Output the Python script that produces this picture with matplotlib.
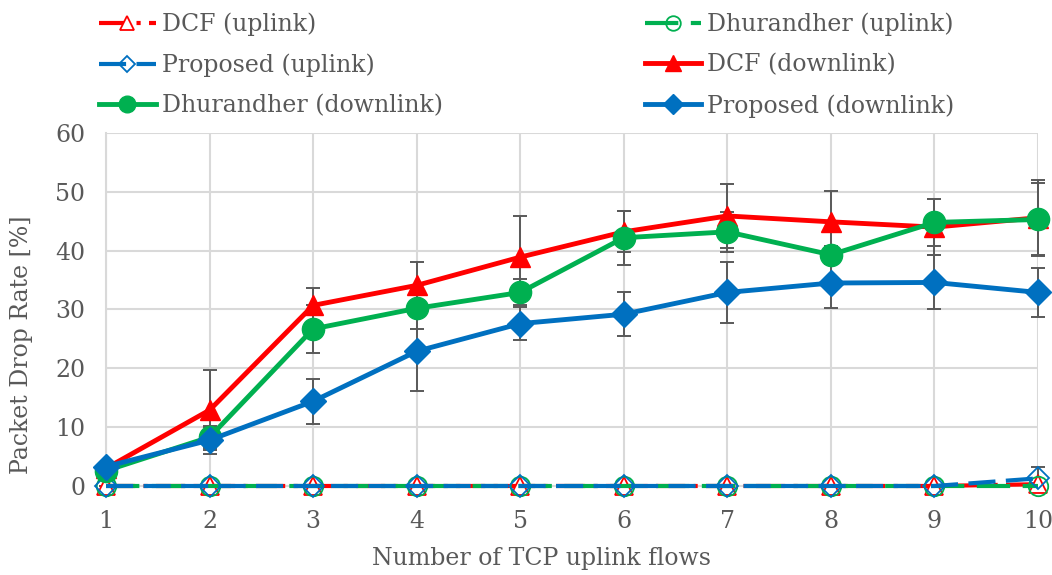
"""
Packet drop rate vs number of TCP uplink flows (uplink/downlink, 3 schemes).
Saves out.png.
"""

import matplotlib
matplotlib.use("Agg")
import matplotlib.pyplot as plt

# ---- data ----
flows = [1, 2, 3, 4, 5, 6, 7, 8, 9, 10]

dcf_up = [0, 0, 0, 0, 0, 0, 0, 0, 0, 0.3]
dhu_up = [0, 0, 0, 0, 0, 0, 0, 0, 0, 0]
prop_up = [0, 0, 0, 0, 0, 0, 0, 0, 0, 1.3]
prop_up_err = [0, 0, 0, 0, 0, 0, 0, 0, 0, 2.0]

dcf_down = [3.0, 12.9, 30.7, 34.1, 38.9, 43.2, 45.9, 44.9, 44.0, 45.6]
dhu_down = [2.6, 8.3, 26.7, 30.2, 32.9, 42.2, 43.2, 39.3, 44.8, 45.3]
prop_down = [3.3, 7.8, 14.4, 22.9, 27.6, 29.2, 32.9, 34.5, 34.6, 32.9]

dcf_down_err = [0.5, 6.8, 2.9, 3.9, 7.0, 3.5, 5.5, 5.2, 4.7, 6.4]
dhu_down_err = [0.5, 1.9, 4.1, 3.5, 2.2, 4.6, 3.4, 1.5, 4.0, 6.2]
prop_down_err = [0.5, 2.3, 3.8, 6.7, 2.8, 3.7, 5.2, 4.2, 4.6, 4.1]

RED = "#FF0000"
GREEN = "#00B050"
BLUE = "#0070C0"
GREY_TXT = "#595959"
GRID = "#D9D9D9"
ERR = "#595959"
FS = 17

plt.rcParams["font.family"] = ["DejaVu Serif"]


def main():
    fig = plt.figure(figsize=(10.52, 5.75), dpi=100)
    ax = fig.add_axes([0.1008, 0.1548, 0.8859, 0.6139])

    # error bars (under the lines)
    err_kw = dict(fmt="none", ecolor=ERR, elinewidth=1.4, capsize=5, capthick=1.4,
                  zorder=2, clip_on=False)
    ax.errorbar(flows, dcf_down, yerr=dcf_down_err, **err_kw)
    ax.errorbar(flows, dhu_down, yerr=dhu_down_err, **err_kw)
    ax.errorbar(flows, prop_down, yerr=prop_down_err, **err_kw)
    ax.errorbar(flows, prop_up, yerr=prop_up_err, **err_kw)

    # uplink (open markers, dashed)
    h_dcf_up, = ax.plot(flows, dcf_up, color=RED, lw=3, dashes=(7, 2, 1, 2),
                        marker="^", ms=13, mfc="white", mec=RED, mew=1.3,
                        clip_on=False, zorder=3, label="DCF (uplink)")
    h_dhu_up, = ax.plot(flows, dhu_up, color=GREEN, lw=3, dashes=(8, 3),
                        marker="o", ms=14, mfc="none", mec=GREEN, mew=1.3,
                        clip_on=False, zorder=3, label="Dhurandher (uplink)")
    h_prop_up, = ax.plot(flows, prop_up, color=BLUE, lw=3, dashes=(6.5, 2.5),
                         marker="D", ms=11, mfc="none", mec=BLUE, mew=1.3,
                         clip_on=False, zorder=3, label="Proposed (uplink)")

    # downlink (filled markers, solid)
    h_dcf_down, = ax.plot(flows, dcf_down, color=RED, lw=3.5, marker="^", ms=15,
                          clip_on=False, zorder=4, label="DCF (downlink)")
    h_dhu_down, = ax.plot(flows, dhu_down, color=GREEN, lw=3.5, marker="o", ms=16,
                          clip_on=False, zorder=4, label="Dhurandher (downlink)")
    h_prop_down, = ax.plot(flows, prop_down, color=BLUE, lw=3.5, marker="D", ms=13,
                           clip_on=False, zorder=4, label="Proposed (downlink)")

    ax.set_xlim(1, 10)
    ax.set_ylim(0, 60)
    ax.set_xticks(flows)
    ax.set_yticks(range(0, 61, 10))
    ax.grid(True, color=GRID, lw=1.5)
    ax.set_axisbelow(True)
    for side in ["top", "right"]:
        ax.spines[side].set_visible(False)
    for side in ["left", "bottom"]:
        ax.spines[side].set_color(GRID)
        ax.spines[side].set_linewidth(1.5)
    ax.tick_params(length=0, labelsize=FS, labelcolor=GREY_TXT)
    ax.tick_params(axis="x", pad=17)
    ax.tick_params(axis="y", pad=15)

    # Excel-style titles sit a bit off the plot-area centre
    ax.set_xlabel("Number of TCP uplink flows", fontsize=FS, color=GREY_TXT)
    ax.set_ylabel("Packet Drop Rate [%]", fontsize=FS, color=GREY_TXT)
    ax.xaxis.set_label_coords(0.467, -0.172)
    ax.yaxis.set_label_coords(-0.078, 0.40)

    # legend fills column-wise, so order handles to read row-wise
    handles = [h_dcf_up, h_prop_up, h_dhu_down, h_dhu_up, h_dcf_down, h_prop_down]
    leg = fig.legend(handles=handles, labels=[h.get_label() for h in handles],
                     ncol=2, loc="upper left", bbox_to_anchor=(0.074, 1.015),
                     frameon=False, fontsize=FS, handlelength=2.4, markerscale=0.75,
                     columnspacing=8.55, labelspacing=0.74, handletextpad=0.25)
    for t in leg.get_texts():
        t.set_color(GREY_TXT)

    fig.savefig("out.png", dpi=100)
    plt.close(fig)


if __name__ == "__main__":
    main()
